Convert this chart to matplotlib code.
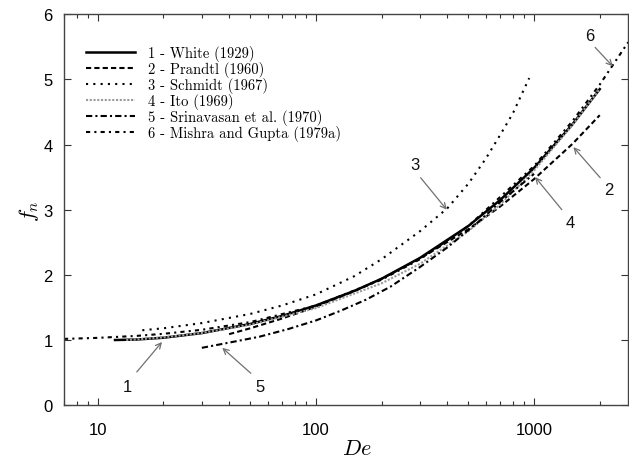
import matplotlib
matplotlib.use("Agg")

import matplotlib.pyplot as plt
from matplotlib.ticker import LogLocator, NullFormatter, FixedLocator

plt.rcParams["mathtext.fontset"] = "cm"
plt.rcParams["font.family"] = ["Liberation Sans", "DejaVu Sans"]

# values
de_white = [12, 15, 20, 30, 50, 70, 100, 150, 200, 300, 500, 700, 1000, 1500, 2000]
fn_white = [1.00, 1.007, 1.035, 1.106, 1.246, 1.37, 1.53, 1.754, 1.94, 2.26, 2.75, 3.15, 3.64, 4.31, 4.85]

de_prandtl = [40, 50, 70, 100, 150, 200, 300, 500, 700, 1000, 1500, 2000]
fn_prandtl = [1.09, 1.18, 1.33, 1.51, 1.75, 1.94, 2.25, 2.70, 3.05, 3.47, 4.01, 4.45]

de_schmidt = [16, 20, 30, 50, 70, 100, 150, 200, 300, 400, 500, 600, 700, 800, 950]
fn_schmidt = [1.15, 1.18, 1.26, 1.40, 1.53, 1.70, 1.98, 2.24, 2.67, 3.02, 3.40, 3.78, 4.15, 4.48, 5.02]

de_ito = [13.5, 15, 20, 30, 50, 100, 200, 300, 500, 700, 1000, 1500, 2000]
fn_ito = [1.00, 1.009, 1.04, 1.108, 1.235, 1.49, 1.87, 2.17, 2.67, 3.08, 3.60, 4.30, 4.85]

de_srini = [30, 40, 55, 75, 100, 130, 170, 220, 300, 400, 550, 700, 1000]
fn_srini = [0.88, 0.96, 1.05, 1.17, 1.30, 1.45, 1.62, 1.82, 2.12, 2.42, 2.80, 3.12, 3.55]

de_mishra = [7, 10, 15, 20, 30, 50, 100, 200, 300, 500, 1000, 1500, 2000, 2700]
fn_mishra = [1.017, 1.033, 1.063, 1.095, 1.157, 1.275, 1.528, 1.925, 2.24, 2.75, 3.67, 4.36, 4.92, 5.57]

labels = [
    "1 - White (1929)",
    "2 - Prandtl (1960)",
    "3 - Schmidt (1967)",
    "4 - Ito (1969)",
    "5 - Srinavasan et al. (1970)",
    "6 - Mishra and Gupta (1979a)",
]

fig = plt.figure(figsize=(6.29, 4.6), dpi=100)
ax = fig.add_axes([0.1017, 0.117, 0.897, 0.85])

ax.plot(de_white, fn_white, color="black", lw=1.8, label=labels[0])
ax.plot(de_prandtl, fn_prandtl, color="black", lw=1.5, dashes=(2.5, 1.5), label=labels[1])
ax.plot(de_schmidt, fn_schmidt, color="black", lw=1.5, dashes=(1, 2.5), label=labels[2])
ax.plot(de_ito, fn_ito, color="#9a9a9a", lw=1.5, dashes=(1, 0.8), label=labels[3])
ax.plot(de_srini, fn_srini, color="black", lw=1.5, dashes=(3, 1.5, 1, 1.5), label=labels[4])
ax.plot(de_mishra, fn_mishra, color="black", lw=1.5, dashes=(2, 2, 1, 2), label=labels[5])

ax.set_xscale("log")
ax.set_xlim(7, 2700)
ax.set_ylim(0, 6)
ax.xaxis.set_major_locator(FixedLocator([10, 100, 1000]))
ax.set_xticklabels(["10", "100", "1000"])
ax.xaxis.set_minor_locator(LogLocator(base=10, subs=range(2, 10)))
ax.xaxis.set_minor_formatter(NullFormatter())
ax.set_yticks([0, 1, 2, 3, 4, 5, 6])

ax.tick_params(axis="both", which="major", direction="in", length=5, width=0.8,
               labelsize=12, top=True, right=True, color="#333333")
ax.tick_params(axis="x", which="minor", direction="in", length=3, width=0.8,
               top=True, color="#333333")
ax.tick_params(axis="x", which="major", pad=12)
ax.tick_params(axis="y", which="major", pad=8)
for s in ax.spines.values():
    s.set_color("#444444")
    s.set_linewidth(1.0)

ax.set_xlabel(r"$De$", fontsize=16, labelpad=0)
ax.xaxis.set_label_coords(0.52, -0.085)
ax.set_ylabel(r"$f_n$", fontsize=16, labelpad=2)

ax.legend(loc="upper left", bbox_to_anchor=(0.028, 0.935), frameon=False,
          prop={"family": "cmr10", "size": 10.5}, handlelength=3.4,
          labelspacing=0.0, handletextpad=0.9, borderaxespad=0)

# numbered arrows
arrow = dict(arrowstyle="->", color="#707070", lw=0.9, shrinkA=0, shrinkB=0,
             mutation_scale=10)
notes = [
    ("1", (13.7, 0.28), (15.1, 0.51), (19.7, 0.97)),
    ("5", (55.3, 0.28), (50.3, 0.49), (37.2, 0.88)),
    ("3", (284, 3.69), (302, 3.49), (398, 3.0)),
    ("4", (1462, 2.80), (1340, 3.0), (1011, 3.50)),
    ("2", (2193, 3.31), (2010, 3.49), (1514, 3.96)),
    ("6", (1807, 5.68), (1905, 5.49), (2296, 5.2)),
]
for txt, tpos, tail, tip in notes:
    ax.text(tpos[0], tpos[1], txt, fontsize=12, ha="center", va="center",
            color="#111111")
    ax.annotate("", xy=tip, xytext=tail, arrowprops=arrow)

fig.savefig("out.png", dpi=100)
print("Saved: out.png")
